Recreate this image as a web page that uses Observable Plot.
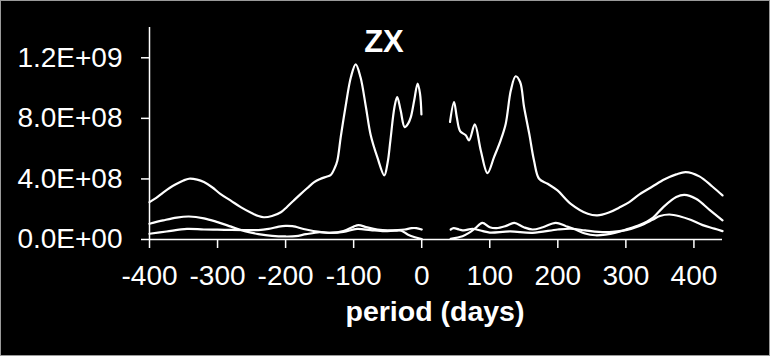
<!DOCTYPE html>
<html>
<head>
<meta charset="utf-8">
<script src="https://cdn.jsdelivr.net/npm/d3@7"></script>
<script src="https://cdn.jsdelivr.net/npm/@observablehq/plot@0.6"></script>
<style>
  html, body { margin: 0; padding: 0; background: #000; }
  #wrap { position: relative; width: 770px; height: 356px; background: #000; overflow: hidden; }
  .lbl { position: absolute; color: #fff; font-family: "Liberation Sans", Arial, sans-serif; font-weight: bold; white-space: nowrap; text-align: center; }
  #title { left: 334px; width: 100px; top: 26px; font-size: 31px; line-height: 31px; }
  #xlabel { left: 285px; width: 300px; top: 297px; font-size: 28.5px; line-height: 28px; }
  #frame { position: absolute; left: 0; top: 0; width: 770px; height: 356px; box-sizing: border-box; border: 1px solid #9a9a9a; pointer-events: none; }
</style>
</head>
<body>
<div id="wrap">
  <div id="chart"></div>
  <div id="title" class="lbl">ZX</div>
  <div id="xlabel" class="lbl">period (days)</div>
  <div id="frame"></div>
</div>
<script>
// ---- data (y in units of 1E+08) ----
const xTicks = [-400, -300, -200, -100, 0, 100, 200, 300, 400];
const xTickLabels = ["-400", "-300", "-200", "-100", "0", "100", "200", "300", "400"];
const yTicks = [0, 4e8, 8e8, 1.2e9];
const yTickLabels = ["0.0E+00", "4.0E+08", "8.0E+08", "1.2E+09"];

// Series A (large curve), negative periods
const aLeftX = [-400,-390,-380,-370,-360,-350,-342,-330,-320,-308,-296,-280,-266,-250,-240,-232,-220,-207,-198,-188,-178,-168,-158,-150,-140,-134,-128,-124,-119,-112,-104,-97,-90,-82,-75,-65,-55,-50,-46,-40,-36,-31,-25,-20,-16,-11,-6,-2.5,-0.4];
const aLeftY = [2.47,2.75,3.10,3.42,3.68,3.90,4.01,3.95,3.79,3.45,3.02,2.55,2.14,1.75,1.55,1.47,1.55,1.80,2.15,2.58,3.00,3.40,3.79,3.98,4.15,4.25,4.70,5.20,6.76,8.75,10.73,11.57,10.73,8.75,6.90,5.40,4.23,5.10,6.55,8.75,9.41,8.53,7.42,7.65,8.08,9.19,10.30,9.63,8.26];
// Series A, positive periods
const aRightX = [41.6,47.5,51.5,56.4,64.7,69.6,78,86.8,96.6,106.3,116,123.5,131,138,144.6,150.4,158,165,172.5,185,199.5,219,244,258,275,290,305,320,339,357,374,388,408,427,442];
const aRightY = [7.76,9.08,8.09,7.16,6.88,6.55,7.60,5.88,4.38,5.44,6.55,7.65,9.85,10.78,10.40,8.75,6.99,5.22,4.01,3.68,3.24,2.36,1.70,1.59,1.78,2.10,2.47,2.98,3.50,3.98,4.30,4.45,4.17,3.50,2.91];

// Series B
const bLeftX = [-400,-380,-360,-342,-320,-300,-280,-260,-240,-220,-200,-185,-170,-150,-135,-115,-95,-75,-55,-40,-30,-20,-10,0];
const bLeftY = [1.04,1.26,1.45,1.52,1.40,1.15,0.85,0.55,0.36,0.24,0.20,0.22,0.35,0.48,0.44,0.50,0.70,0.62,0.55,0.58,0.58,0.32,0.15,0.03];
const bRightX = [42.6,60,70,79,89,100,110,124,136,150,163,178,197,212,226,240,255,270,285,300,320,340,355,374,386,403,423,442];
const bRightY = [0.05,0.22,0.45,0.75,1.10,0.81,0.75,0.90,1.10,0.81,0.66,0.81,1.10,0.88,0.66,0.40,0.28,0.32,0.45,0.65,0.95,1.45,2.14,2.80,2.95,2.69,1.96,1.26];

// Series C
const cLeftX = [-400,-375,-345,-320,-290,-260,-240,-225,-210,-200,-190,-170,-150,-135,-115,-100,-93,-80,-65,-50,-35,-25,-15,-8,0];
const cLeftY = [0.38,0.53,0.70,0.66,0.64,0.62,0.62,0.70,0.85,0.90,0.88,0.66,0.50,0.44,0.55,0.85,0.95,0.80,0.66,0.60,0.62,0.66,0.75,0.75,0.66];
const cRightX = [42.6,47,55,62,75,90,100,130,163,200,220,240,260,280,300,320,339,350,364,380,395,413,430,442];
const cRightY = [0.66,0.75,0.66,0.60,0.71,0.55,0.46,0.53,0.44,0.66,0.71,0.60,0.50,0.50,0.62,0.90,1.30,1.55,1.65,1.52,1.30,0.95,0.72,0.55];

// ---- build table ----
const segments = [
  ["A-left", aLeftX, aLeftY], ["A-right", aRightX, aRightY],
  ["B-left", bLeftX, bLeftY], ["B-right", bRightX, bRightY],
  ["C-left", cLeftX, cLeftY], ["C-right", cRightX, cRightY]
];
const rows = segments.flatMap(([s, xs, ys]) => xs.map((x, i) => ({s, x, y: ys[i] * 1e8})));

const chart = Plot.plot({
  width: 770,
  height: 356,
  marginLeft: 149,
  marginRight: 48,
  marginTop: 27,
  marginBottom: 117,
  style: {background: "#000", color: "#fff", fontFamily: "'Liberation Sans', Arial, sans-serif"},
  x: {domain: [-400, 442]},
  y: {domain: [0, 1.4e9]},
  marks: [
    Plot.axisX({ticks: xTicks, tickFormat: d => xTickLabels[xTicks.indexOf(d)], tickSize: 9, tickPadding: 17, fontSize: 28, label: null, strokeWidth: 1.5}),
    Plot.axisY({ticks: yTicks, tickFormat: d => yTickLabels[yTicks.indexOf(d)], tickSize: 8, tickPadding: 19, fontSize: 28, label: null, strokeWidth: 1.5}),
    Plot.ruleX([-400], {stroke: "#fff", strokeWidth: 1.5}),
    Plot.ruleY([0], {stroke: "#fff", strokeWidth: 1.5}),
    Plot.line(rows, {x: "x", y: "y", z: "s", stroke: "#fff", strokeWidth: 2.2, curve: "catmull-rom"})
  ]
});
document.getElementById("chart").appendChild(chart);
</script>
</body>
</html>
